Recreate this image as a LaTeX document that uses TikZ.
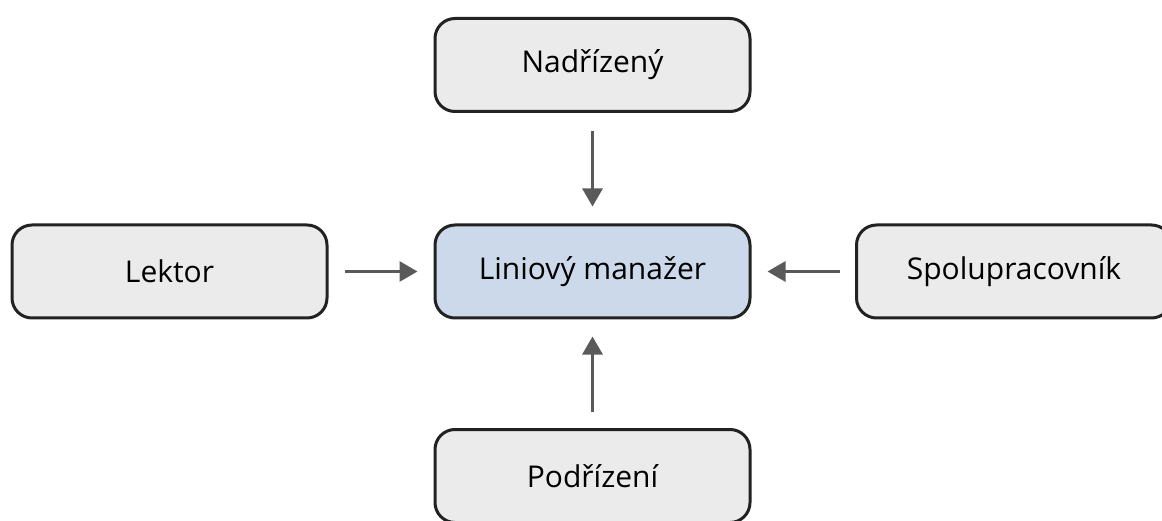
\documentclass[tikz,border=0pt]{standalone}
\usepackage{fontspec}
\setmainfont{Open Sans}
\usetikzlibrary{arrows.meta}
\definecolor{boxgray}{HTML}{EBEBEB}
\definecolor{boxblue}{HTML}{CCD9EB}
\definecolor{edgedark}{HTML}{222222}
\definecolor{arrowgray}{HTML}{5A5A5A}
\begin{document}
\begin{tikzpicture}[x=1pt,y=-1pt,
  rolebox/.style={draw=edgedark, line width=3pt, rounded corners=20pt,
    fill=boxgray, minimum width=315pt, minimum height=93pt,
    inner sep=0pt, font=\fontsize{30}{36}\selectfont, text=black},
  focusbox/.style={rolebox, fill=boxblue},
  flow/.style={draw=arrowgray, line width=3pt,
    -{Triangle[width=20pt,length=18pt]}}]
  \useasboundingbox (0,0) rectangle (1162,521);
  \node[rolebox]  (sup)   at (592.5,65)    {Nadřízený};
  \node[focusbox] (mgr)   at (592.5,271.5) {Liniový manažer};
  \node[rolebox]  (lect)  at (169.5,271.5) {Lektor};
  \node[rolebox]  (peer)  at (1014,271.5)  {Spolupracovník};
  \node[rolebox]  (sub)   at (592.5,476)   {Podřízení};
  \draw[flow, shorten <=18pt, shorten >=17pt] (sup) -- (mgr);
  \draw[flow, shorten <=16pt, shorten >=16pt] (lect) -- (mgr);
  \draw[flow, shorten <=15pt, shorten >=16pt] (peer) -- (mgr);
  \draw[flow, shorten <=16pt, shorten >=17pt] (sub) -- (mgr);
\end{tikzpicture}
\end{document}
